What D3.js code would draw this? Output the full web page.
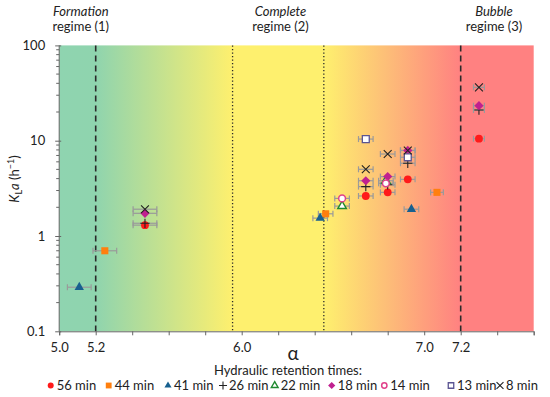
<!DOCTYPE html>
<meta charset="utf-8">
<script src="https://d3js.org/d3.v7.min.js"></script>
<style>
  body { margin: 0; background: #fff; }
  text { font-family: Lato, "Open Sans", sans-serif; fill: #222; }
</style>
<div id="my_dataviz"></div>
<script>

// hydraulic retention times (legend order)
var hrt = ["56 min", "44 min", "41 min", "26 min", "22 min", "18 min", "14 min", "13 min", "8 min"];

// alpha, KLa and alpha error for each retention time
var alpha56 = [5.47, 6.68, 6.80, 6.91, 7.30];
var kla56   = [1.30, 2.63, 2.87, 3.93, 10.5];
var err56   = [0.065, 0.04, 0.04, 0.04, 0.03];

var alpha44 = [5.25, 6.46, 7.07];
var kla44   = [0.70, 1.71, 2.87];
var err44   = [0.065, 0.04, 0.035];

var alpha41 = [5.11, 6.43, 6.93];
var kla41   = [0.29, 1.54, 1.91];
var err41   = [0.065, 0.04, 0.04];

var alpha26 = [5.47, 6.68, 6.80, 6.91, 7.30];
var kla26   = [1.36, 3.30, 3.45, 5.80, 21.0];
var err26   = [0.065, 0.04, 0.04, 0.04, 0.03];

var alpha22 = [6.55, 6.79];
var kla22   = [2.06, 3.80];
var err22   = [0.04, 0.04];

var alpha18 = [5.47, 6.68, 6.80, 6.91, 7.30];
var kla18   = [1.73, 3.80, 4.20, 7.90, 23.3];
var err18   = [0.065, 0.04, 0.04, 0.04, 0.03];

var alpha14 = [6.55, 6.79];
var kla14   = [2.48, 3.57];
var err14   = [0.04, 0.04];

var alpha13 = [6.68, 6.91];
var kla13   = [10.4, 6.70];
var err13   = [0.04, 0.04];

var alpha8 = [5.47, 6.68, 6.80, 6.91, 7.30];
var kla8   = [1.91, 5.01, 7.25, 7.90, 36.3];
var err8   = [0.065, 0.04, 0.04, 0.04, 0.03];

// axis ticks
var xTicks = [5.0, 5.2, 5.4, 5.6, 5.8, 6.0, 6.2, 6.4, 6.6, 6.8, 7.0, 7.2, 7.4, 7.6];
var xLabels = [5.0, 5.2, 6.0, 7.0, 7.2];
var yLabels = [0.1, 1, 10, 100];

// regime boundaries
var regimeDash = [5.2, 7.2];
var regimeDot = [5.95, 6.45];

var seriesAlpha = [alpha56, alpha44, alpha41, alpha26, alpha22, alpha18, alpha14, alpha13, alpha8];
var seriesKla = [kla56, kla44, kla41, kla26, kla22, kla18, kla14, kla13, kla8];
var seriesErr = [err56, err44, err41, err26, err22, err18, err14, err13, err8];

// square diamond (rotated square), like the spreadsheet marker
var symbolRhomb = {
  draw: function(ctx, size) {
    var r = Math.sqrt(size / 2);
    ctx.moveTo(0, -r); ctx.lineTo(r, 0); ctx.lineTo(0, r); ctx.lineTo(-r, 0); ctx.closePath();
  }
};

// marker styles per series (size = plot marker, lsize = legend marker)
var styles = [
  {type: d3.symbolCircle,   size: 48, lsize: 28, fill: "#ff1a1a", stroke: "none"},
  {type: d3.symbolSquare,   size: 50, lsize: 34, fill: "#ff7f0e", stroke: "none"},
  {type: d3.symbolTriangle, size: 38, lsize: 22, fill: "#17608f", stroke: "none"},
  {type: d3.symbolPlus,     size: 30, lsize: 23, fill: "none",    stroke: "#222", sw: 1.1},
  {type: d3.symbolTriangle, size: 32, lsize: 20, fill: "#fff",    stroke: "#1f8a30", sw: 1.4},
  {type: symbolRhomb,       size: 42, lsize: 26, fill: "#c0208f", stroke: "none"},
  {type: d3.symbolCircle,   size: 36, lsize: 22, fill: "#fff",    stroke: "#e0408a", sw: 1.5},
  {type: d3.symbolSquare,   size: 48, lsize: 30, fill: "#fff",    stroke: "#5b5592", sw: 1.3},
  {type: d3.symbolTimes,    size: 42, lsize: 33, fill: "none",    stroke: "#222", sw: 1.1}
];

var W = 550, H = 397;
var margin = {top: 45.4, right: 16.3, bottom: 65.7, left: 59.2},
    width = W - margin.left - margin.right,
    height = H - margin.top - margin.bottom;

var svgRoot = d3.select("#my_dataviz")
  .append("svg")
    .attr("width", W)
    .attr("height", H);

var svg = svgRoot.append("g")
    .attr("transform", "translate(" + margin.left + "," + margin.top + ")");

var x = d3.scaleLinear().domain([5.0, 7.6]).range([0, width]);
var y = d3.scaleLog().domain([0.1, 100]).range([height, 0]);

// background gradient for the regimes
var grad = svgRoot.append("defs").append("linearGradient")
    .attr("id", "regimes")
    .attr("gradientUnits", "userSpaceOnUse")
    .attr("x1", 0).attr("x2", width).attr("y1", 0).attr("y2", 0);
var stops = [
  [5.0, "#8fd4b0"], [5.2, "#8fd4ae"], [5.95, "#fef06e"],
  [6.45, "#fef06e"], [6.8, "#fdbd78"], [7.2, "#ff8181"], [7.6, "#ff8181"]
];
grad.selectAll("stop").data(stops).enter().append("stop")
    .attr("offset", function(d) { return x(d[0]) / width; })
    .attr("stop-color", function(d) { return d[1]; });

svg.append("rect")
    .attr("x", 0).attr("y", 0)
    .attr("width", width).attr("height", height)
    .attr("fill", "url(#regimes)");

// regime boundary lines
svg.selectAll(".dash").data(regimeDash).enter().append("line")
    .attr("x1", function(d) { return x(d); }).attr("x2", function(d) { return x(d); })
    .attr("y1", 0).attr("y2", height)
    .attr("stroke", "#2a2a2a").attr("stroke-width", 1.6)
    .attr("stroke-dasharray", "6,4");
svg.selectAll(".dot").data(regimeDot).enter().append("line")
    .attr("x1", function(d) { return x(d); }).attr("x2", function(d) { return x(d); })
    .attr("y1", 0).attr("y2", height)
    .attr("stroke", "#2a2a2a").attr("stroke-width", 1.3)
    .attr("stroke-dasharray", "1.3,2.2");

// X axis
var xAxis = svg.append("g")
    .attr("transform", "translate(0," + height + ")")
    .call(d3.axisBottom(x).tickValues(xTicks).tickSize(4)
      .tickFormat(function(d) { return xLabels.some(function(v) { return Math.abs(v - d) < 1e-6; }) ? d3.format(".1f")(d) : ""; }));
xAxis.select(".domain").attr("stroke", "#666");
xAxis.selectAll(".tick line").attr("stroke", "#666");
xAxis.selectAll(".tick text").attr("font-size", 13).attr("dy", "1.05em").attr("fill", "#222")
    .attr("font-family", "Lato, sans-serif");

// Y axis, minor ticks first
var minor = [];
[0.1, 1, 10].forEach(function(dec) {
  for (var i = 2; i <= 9; i++) minor.push(dec * i);
});
svg.selectAll(".minor").data(minor).enter().append("line")
    .attr("x1", -3).attr("x2", 0)
    .attr("y1", function(d) { return y(d); }).attr("y2", function(d) { return y(d); })
    .attr("stroke", "#666");

var yAxis = svg.append("g")
    .call(d3.axisLeft(y).tickValues(yLabels).tickSize(4)
      .tickFormat(function(d) { return d < 1 ? "0.1" : d3.format("d")(d); }));
yAxis.select(".domain").attr("stroke", "#666").attr("d", "M0," + height + "V0");
yAxis.selectAll(".tick line").attr("stroke", "#666").attr("x2", -4).attr("x1", 2);
yAxis.selectAll(".tick text").attr("font-size", 13).attr("x", -14).attr("fill", "#222")
    .attr("font-family", "Lato, sans-serif");

// error bars and markers
var capH = 3;
seriesAlpha.forEach(function(al, s) {
  var pts = al.map(function(a, i) { return {a: a, k: seriesKla[s][i], e: seriesErr[s][i]}; });
  var g = svg.append("g");
  var eb = g.selectAll(".eb").data(pts).enter().append("g").attr("stroke", "#9a9a9a").attr("stroke-width", 1.2);
  eb.append("line")
    .attr("x1", function(d) { return x(d.a - d.e); }).attr("x2", function(d) { return x(d.a + d.e); })
    .attr("y1", function(d) { return y(d.k); }).attr("y2", function(d) { return y(d.k); });
  eb.append("line")
    .attr("x1", function(d) { return x(d.a - d.e); }).attr("x2", function(d) { return x(d.a - d.e); })
    .attr("y1", function(d) { return y(d.k) - capH; }).attr("y2", function(d) { return y(d.k) + capH; });
  eb.append("line")
    .attr("x1", function(d) { return x(d.a + d.e); }).attr("x2", function(d) { return x(d.a + d.e); })
    .attr("y1", function(d) { return y(d.k) - capH; }).attr("y2", function(d) { return y(d.k) + capH; });
});
seriesAlpha.forEach(function(al, s) {
  var st = styles[s];
  var pts = al.map(function(a, i) { return {a: a, k: seriesKla[s][i]}; });
  svg.append("g").selectAll("path").data(pts).enter().append("path")
    .attr("d", d3.symbol().type(st.type).size(st.size))
    .attr("transform", function(d) { return "translate(" + x(d.a) + "," + y(d.k) + ")"; })
    .attr("fill", st.fill)
    .attr("stroke", st.stroke)
    .attr("stroke-width", st.sw || 0);
});

// regime labels
var regimes = [
  {c: 80.8, t1: "Formation", t2: "regime (1)"},
  {c: 280.5, t1: "Complete", t2: "regime (2)"},
  {c: 494, t1: "Bubble", t2: "regime (3)"}
];
regimes.forEach(function(r) {
  svgRoot.append("text").attr("x", r.c).attr("y", 16).attr("text-anchor", "middle")
    .attr("font-size", 13).attr("font-style", "italic").text(r.t1);
  svgRoot.append("text").attr("x", r.c).attr("y", 31).attr("text-anchor", "middle")
    .attr("font-size", 13).text(r.t2);
});

// axis titles
svgRoot.append("text")
    .attr("x", 293).attr("y", 360).attr("text-anchor", "middle")
    .attr("font-family", "'Liberation Serif', 'DejaVu Serif', serif")
    .attr("font-size", 19).text("\u03b1");

var yl = svgRoot.append("text")
    .attr("transform", "translate(19,179) rotate(-90)")
    .attr("text-anchor", "middle").attr("font-size", 13);
yl.append("tspan").attr("font-style", "italic").text("K");
yl.append("tspan").attr("font-size", 9).attr("dy", 3).text("L");
yl.append("tspan").attr("font-style", "italic").attr("dy", -3).text("a");
yl.append("tspan").text(" (h");
yl.append("tspan").attr("font-size", 9).attr("dy", -5).text("\u22121");
yl.append("tspan").attr("dy", 5).text(")");

// legend
svgRoot.append("text")
    .attr("x", 288).attr("y", 375).attr("text-anchor", "middle")
    .attr("font-size", 13).text("Hydraulic retention times:");

var legendX = [50.7, 108.7, 168, 223, 274.7, 331.7, 384.3, 451, 500];
hrt.forEach(function(name, s) {
  var st = styles[s];
  var lg = svgRoot.append("g").attr("transform", "translate(" + legendX[s] + ",385.5)");
  lg.append("path")
    .attr("d", d3.symbol().type(st.type).size(st.lsize))
    .attr("fill", st.fill).attr("stroke", st.stroke).attr("stroke-width", st.sw || 0);
  lg.append("text").attr("x", 6).attr("y", 4.5).attr("font-size", 13).text(name);
});

</script>
